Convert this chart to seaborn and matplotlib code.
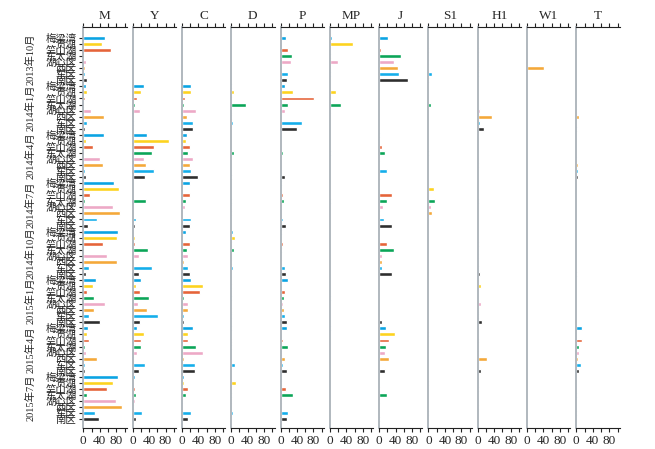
import numpy as np
import pandas as pd
import matplotlib
matplotlib.use("Agg")
import matplotlib.pyplot as plt
import seaborn as sns

months = ["2013年10月", "2014年1月", "2014年4月", "2014年7月",
          "2014年10月", "2015年1月", "2015年4月", "2015年7月"]
stations = ["梅梁湾", "贡湖", "竺山湖", "东太湖", "湖心区", "西区", "东区", "南区"]
variables = ["M", "Y", "C", "D", "P", "MP", "J", "S1", "H1", "W1", "T"]

M = [52, 45, 66, 0, 7, 5, 5, 10,
     6, 9, 3, 2, 19, 49, 9, 5,
     50, 6, 23, 0, 40, 48, 3, 7,
     74, 87, 16, 3, 73, 89, 33, 12,
     84, 81, 47, 0, 58, 81, 13, 6,
     30, 24, 10, 27, 52, 26, 15, 40,
     12, 10, 14, 3, 6, 33, 4, 4,
     85, 73, 58, 9, 79, 95, 28, 38]
Y = [1.5, 2, 2, 0, 0, 0, 0, 0,
     27, 20, 10, 6, 18, 0, 3, 0,
     35, 89, 53, 48, 28, 32, 53, 29,
     0, 1, 2, 32, 1, 0, 9, 7,
     2, 6, 6, 37, 15, 0, 47, 15,
     20, 8, 19, 40, 13, 36, 61, 19,
     11, 27, 21, 21, 11, 3, 30, 15,
     5, 2, 6, 8, 6, 3, 22, 9]
C = [0, 0, 0, 0, 0, 0, 0, 0,
     23, 21, 7, 5, 35, 13, 27, 27,
     13, 11, 19, 16, 27, 19, 23, 40,
     20, 0, 20, 9, 7, 0, 22, 20,
     9, 2, 19, 12, 14, 4, 14, 19,
     21, 52, 44, 4, 15, 16, 4, 6,
     27, 14, 14, 33, 50, 4, 31, 31,
     6, 4, 15, 9, 3, 0, 22, 16]
D = [0, 0, 0, 0, 0, 0, 0, 0,
     2, 6, 2, 35, 1, 2, 5, 0,
     0, 0, 0, 8, 0, 0, 0, 2,
     0, 0, 0, 3, 1, 2, 0, 0,
     5, 10, 2, 8, 2, 3, 4, 0,
     0, 1, 0, 2, 0, 2, 2, 0,
     2, 0, 1, 1, 0, 0, 10, 0,
     0, 12, 0, 1, 1, 0, 4, 0]
P = [14, 0, 19, 27, 25, 2, 19, 15,
     10, 31, 82, 19, 11, 0, 52, 40,
     0, 0, 0, 6, 2, 0, 0, 11,
     4, 0, 5, 8, 3, 0, 6, 14,
     3, 0, 6, 4, 2, 3, 11, 14,
     19, 0, 12, 8, 6, 9, 10, 16,
     15, 2, 6, 19, 4, 10, 6, 15,
     3, 3, 13, 30, 3, 0, 19, 15]
MP = [5, 57, 0, 3, 21, 0, 2, 0,
      0, 15, 0, 27, 4, 0, 0, 1,
      0, 0, 0, 2, 0, 0, 0, 0,
      0, 0, 0, 4, 0, 0, 0, 0,
      0, 0, 0, 0, 0, 0, 1, 0,
      0, 0, 0, 2, 0, 0, 0, 0,
      4, 0, 0, 0, 0, 0, 0, 0,
      0, 0, 0, 0, 0, 0, 0, 0]
J = [21, 0, 5, 52, 35, 45, 48, 69,
     0, 0, 0, 0, 0, 0, 0, 0,
     2, 0, 6, 14, 2, 0, 18, 1,
     0, 0, 32, 19, 9, 2, 11, 31,
     0, 0, 18, 35, 6, 8, 8, 32,
     0, 0, 0, 0, 0, 0, 0, 6,
     16, 39, 23, 16, 15, 24, 0, 15,
     0, 0, 2, 19, 3, 0, 0, 2]
S1 = [0, 0, 2, 0, 1, 0, 9, 1,
      0, 0, 0, 6, 0, 0, 0, 0,
      0, 0, 0, 1, 0, 0, 0, 0,
      0, 13, 0, 15, 6, 8, 0, 0,
      0, 0, 0, 0, 0, 0, 0, 0,
      0, 0, 0, 0, 0, 0, 0, 0,
      0, 2, 0, 0, 0, 0, 0, 0,
      0, 2, 0, 0, 0, 0, 2, 0]
H1 = [0, 0, 2, 0, 2, 4, 2, 1,
      0, 0, 0, 1, 6, 34, 6, 16,
      0, 0, 0, 0, 0, 2, 0, 1,
      0, 0, 0, 3, 0, 0, 0, 0,
      0, 0, 3, 0, 2, 0, 3, 5,
      0, 8, 0, 1, 8, 2, 2, 10,
      0, 0, 3, 1, 2, 22, 2, 8,
      0, 0, 3, 1, 0, 2, 0, 0]
W1 = [0, 0, 0, 0, 0, 41, 0, 0,
      0, 0, 0, 0, 0, 0, 0, 0,
      0, 0, 0, 0, 0, 0, 0, 0,
      0, 0, 0, 0, 0, 0, 0, 0,
      0, 0, 0, 0, 0, 0, 0, 0,
      0, 0, 0, 0, 0, 0, 0, 0,
      0, 0, 0, 0, 0, 0, 0, 0,
      0, 0, 0, 0, 0, 0, 0, 0]
T = [0, 0, 0, 0, 0, 0, 0, 0,
     0, 0, 0, 0, 2, 7, 0, 2,
     0, 0, 0, 0, 2, 3, 5, 5,
     0, 0, 0, 0, 0, 0, 0, 0,
     0, 0, 0, 0, 0, 0, 0, 1,
     0, 0, 0, 0, 0, 0, 0, 0,
     15, 0, 13, 7, 7, 5, 11, 7,
     0, 0, 0, 2, 0, 0, 1, 0]

station_colors = ["#0aa3e3", "#fdd31f", "#e5643a", "#0ba558",
                  "#eda9c6", "#f4a83a", "#14aeea", "#2e2e2e"]

sns.set_style("white")
plt.rcParams["font.family"] = ["Liberation Serif", "Noto Sans CJK SC"]

rows = [f"{m}|{s}" for m in months for s in stations]
df = pd.DataFrame({"row": rows, "station": stations * len(months)})
for name, vals in zip(variables, [M, Y, C, D, P, MP, J, S1, H1, W1, T]):
    df[name] = vals

W, H = 655, 449
fig = plt.figure(figsize=(6.55, 4.49), dpi=100)
top_px, bot_px = 27, 428
row0_px, row_step = 38, 6.05
n_rows = len(rows)
ylim_top = -(row0_px - top_px) / row_step
ylim_bot = (bot_px - row0_px) / row_step

for i, v in enumerate(variables):
    left = 83.3 + 49.3 * i
    ax = fig.add_axes([left / W, 1 - bot_px / H, 43.3 / W, (bot_px - top_px) / H])
    sns.barplot(data=df, x=v, y="row", hue="station", hue_order=stations,
                palette=station_colors, order=rows, orient="h", dodge=False,
                width=0.65, legend=False, ax=ax, saturation=1, errorbar=None)
    ax.set_xlim(0, 105)
    ax.set_ylim(ylim_bot, ylim_top)
    ax.set_xlabel("")
    ax.set_ylabel("")
    ax.spines["right"].set_visible(False)
    ax.spines["left"].set_color("#a3abb3")
    ax.spines["left"].set_linewidth(1.2)
    for s in ("top", "bottom"):
        ax.spines[s].set_color("#222222")
        ax.spines[s].set_linewidth(0.8)
    ax.set_xticks([0, 20, 40, 60, 80, 100])
    ax.set_xticklabels(["0", "", "40", "", "80", ""], fontsize=9.5)
    ax.tick_params(axis="x", which="both", top=True, bottom=True, labeltop=False,
                   direction="out", length=3, width=0.8, color="#222222", pad=2)
    if i == 0:
        ax.set_yticks(range(n_rows))
        ax.set_yticklabels(stations * len(months), fontsize=7.5)
        ax.tick_params(axis="y", left=True, direction="out", length=3,
                       width=0.8, color="#222222", pad=2)
    else:
        ax.set_yticks([])
    ax.set_title(v, fontsize=9.5, pad=6)

for g, m in enumerate(months):
    yc = row0_px + row_step * (8 * g + 3.5)
    fig.text(30 / W, 1 - yc / H, m, rotation=90, ha="center", va="center", fontsize=7.5)

fig.savefig("out.png", dpi=100)
